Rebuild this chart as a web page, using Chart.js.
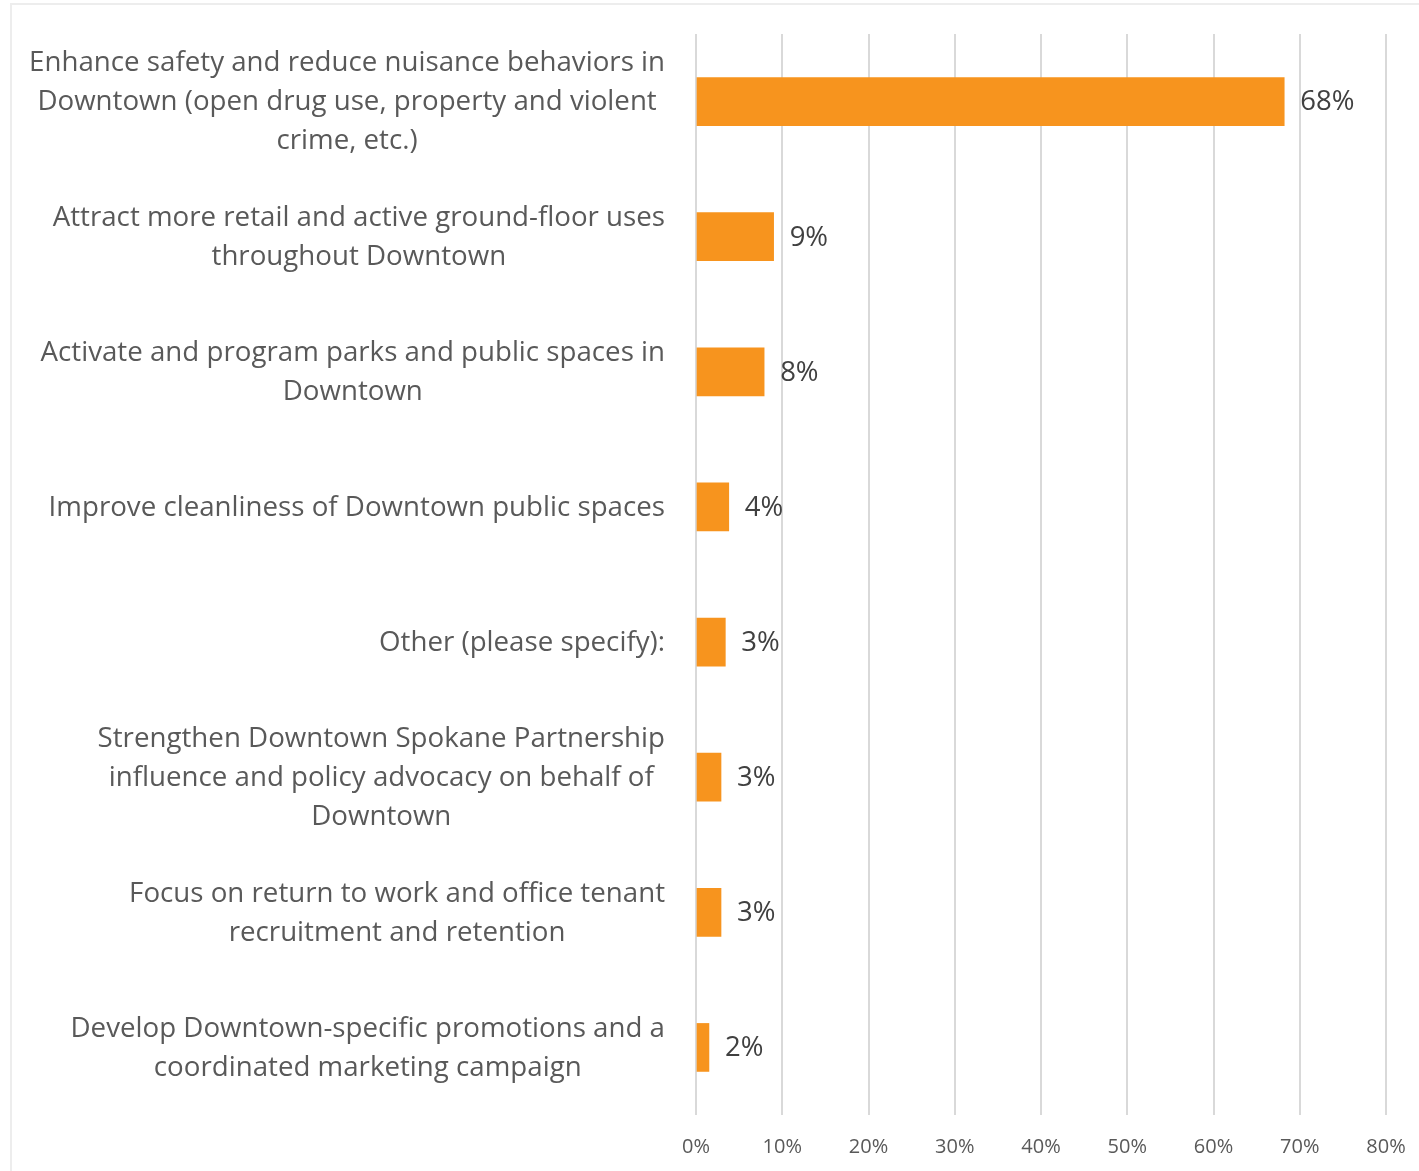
<!DOCTYPE html>
<html>
<head>
<meta charset="utf-8">
<script src="https://cdn.jsdelivr.net/npm/chart.js@4.4.1/dist/chart.umd.min.js"></script>
<style>
  html, body { margin: 0; padding: 0; background: #fff; }
  #wrap { position: relative; width: 1419px; height: 1171px; overflow: hidden; }
  #frame { position: absolute; left: 10px; top: 3px; width: 1430px; height: 1190px;
           border: 2px solid #ededed; box-sizing: border-box; }
  canvas { position: absolute; left: 0; top: 0; }
</style>
</head>
<body>
<div id="wrap">
  <div id="frame"></div>
  <canvas id="c" width="1419" height="1171"></canvas>
</div>
<script>
// Priority categories, already broken into the lines they are printed on
const categories = [
  ["Enhance safety and reduce nuisance behaviors in", "Downtown (open drug use, property and violent", "crime, etc.)"],
  ["Attract more retail and active ground-floor uses", "throughout Downtown"],
  ["Activate and program parks and public spaces in", "Downtown"],
  ["Improve cleanliness of Downtown public spaces"],
  ["Other (please specify):"],
  ["Strengthen Downtown Spokane Partnership", "influence and policy advocacy on behalf of", "Downtown"],
  ["Focus on return to work and office tenant", "recruitment and retention"],
  ["Develop Downtown-specific promotions and a", "coordinated marketing campaign"]
];

// Share of respondents (%)
const shares = [68.2, 9.0, 7.9, 3.8, 3.4, 2.9, 2.9, 1.5];

// Value axis ticks (%)
const xTicks = [0, 10, 20, 30, 40, 50, 60, 70, 80];

const FONT = '"Open Sans", Lato, sans-serif';
const LABEL_SIZE = 27.7;
const VALUE_SIZE = 27.5;
const LINE_GAP = 39;

// Category labels: each block right-aligned to the axis, its lines centred within it
const categoryLabels = {
  id: 'categoryLabels',
  afterDraw(chart) {
    const { ctx, chartArea, scales: { y } } = chart;
    ctx.save();
    ctx.font = `${LABEL_SIZE}px ${FONT}`;
    ctx.fillStyle = '#595959';
    ctx.textAlign = 'center';
    ctx.textBaseline = 'middle';
    categories.forEach((lines, i) => {
      const yc = y.getPixelForTick(i) + 1;
      const w = Math.max(...lines.map(l => ctx.measureText(l).width));
      const cx = chartArea.left - 31 - w / 2;
      lines.forEach((line, j) => {
        ctx.fillText(line, cx, yc + (j - (lines.length - 1) / 2) * LINE_GAP);
      });
    });
    ctx.restore();
  }
};

// Percentage labels at the end of each bar
const valueLabels = {
  id: 'valueLabels',
  afterDatasetsDraw(chart) {
    const { ctx } = chart;
    const meta = chart.getDatasetMeta(0);
    ctx.save();
    ctx.font = `${VALUE_SIZE}px ${FONT}`;
    ctx.fillStyle = '#404040';
    ctx.textAlign = 'left';
    ctx.textBaseline = 'middle';
    meta.data.forEach((bar, i) => {
      ctx.fillText(Math.round(shares[i]) + '%', bar.x + 16, bar.y + 1);
    });
    ctx.restore();
  }
};

new Chart(document.getElementById('c'), {
  type: 'bar',
  data: {
    labels: categories.map(l => l.join(' ')),
    datasets: [{
      data: shares,
      backgroundColor: '#F7941E',
      borderWidth: 0,
      barThickness: 48
    }]
  },
  options: {
    indexAxis: 'y',
    responsive: false,
    animation: false,
    devicePixelRatio: 1,
    layout: { padding: { left: 696, top: 34, right: 33, bottom: 0 } },
    plugins: { legend: { display: false }, tooltip: { enabled: false } },
    scales: {
      x: {
        min: xTicks[0],
        max: xTicks[xTicks.length - 1],
        afterBuildTicks: s => { s.ticks = xTicks.map(v => ({ value: v })); },
        afterFit: s => { s.height = 56; s.paddingLeft = 0; s.paddingRight = 0; },
        ticks: {
          callback: v => v + '%',
          color: '#595959',
          font: { family: FONT, size: 20 },
          padding: 20,
          maxRotation: 0
        },
        grid: { color: '#d9d9d9', lineWidth: 2, drawTicks: false },
        border: { display: false }
      },
      y: {
        afterFit: s => { s.width = 0; },
        ticks: { display: false },
        grid: { display: false },
        border: { display: false }
      }
    }
  },
  plugins: [categoryLabels, valueLabels]
});
</script>
</body>
</html>
